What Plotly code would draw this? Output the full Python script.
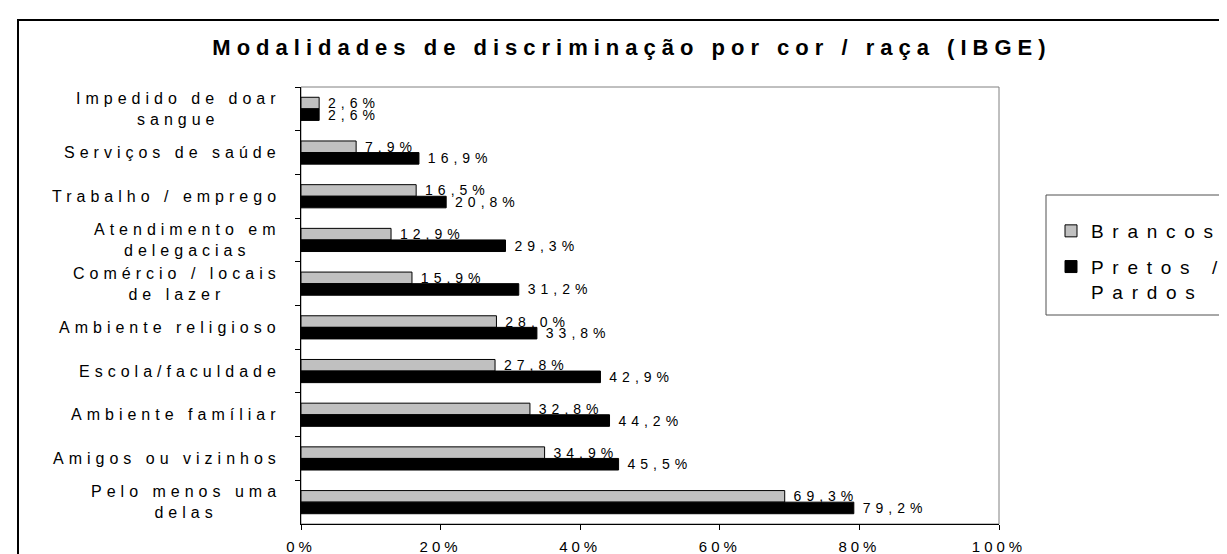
import plotly.graph_objects as go

# ---------------- data ----------------
categories = [
    "Impedido de doar sangue",
    "Serviços de saúde",
    "Trabalho / emprego",
    "Atendimento em delegacias",
    "Comércio / locais de lazer",
    "Ambiente religioso",
    "Escola/faculdade",
    "Ambiente famíliar",
    "Amigos ou vizinhos",
    "Pelo menos uma delas",
]
category_lines = [
    ["Impedido de doar", "sangue"],
    ["Serviços de saúde"],
    ["Trabalho / emprego"],
    ["Atendimento em", "delegacias"],
    ["Comércio / locais", "de lazer"],
    ["Ambiente religioso"],
    ["Escola/faculdade"],
    ["Ambiente famíliar"],
    ["Amigos ou vizinhos"],
    ["Pelo menos uma", "delas"],
]
brancos = [2.6, 7.9, 16.5, 12.9, 15.9, 28.0, 27.8, 32.8, 34.9, 69.3]
pretos = [2.6, 16.9, 20.8, 29.3, 31.2, 33.8, 42.9, 44.2, 45.5, 79.2]
series_names = [["Brancos"], ["Pretos /", "Pardos"]]
x_tick_values = [0, 20, 40, 60, 80, 100]
x_tick_labels = ["0%", "20%", "40%", "60%", "80%", "100%"]
title_text = "Modalidades de discriminação por cor / raça (IBGE)"

# ---------------- style ----------------
FONT = "Liberation Sans, Arial, sans-serif"
W, H = 1227, 554
ML, MR, MT, MB = 293, 236, 79, 38
PW, PH = W - ML - MR, H - MT - MB


def sp(s, ls):
    return f"<span style='letter-spacing:{ls}px'>{s}</span>"


def lines(parts, ls):
    return "<br>".join(sp(p, ls) for p in parts)


def pct(v):
    return f"{v:.1f}".replace(".", ",") + "%"


def bar_label(v):
    return sp("\u00a0", 2) + sp(pct(v), 5)


def px_to_paper_x(px):
    return (px - ML) / PW


def px_to_paper_y(py):
    return (H - MB - py) / PH


fig = go.Figure()
fig.add_trace(go.Bar(
    y=categories, x=brancos, orientation="h",
    name=lines(series_names[0], 8.7), legendgroup="a",
    marker=dict(color="#c0c0c0", line=dict(color="#000000", width=1)),
    text=[bar_label(v) for v in brancos], textposition="outside",
    textfont=dict(family=FONT, size=14, color="#000000"),
    constraintext="none", cliponaxis=False, hoverinfo="skip",
))
fig.add_trace(go.Bar(
    y=categories, x=pretos, orientation="h",
    name=lines(series_names[1], 8.7), legendgroup="b",
    marker=dict(color="#000000", line=dict(color="#000000", width=1)),
    text=[bar_label(v) for v in pretos], textposition="outside",
    textfont=dict(family=FONT, size=14, color="#000000"),
    constraintext="none", cliponaxis=False, hoverinfo="skip",
))

annotations = []
for c, parts in zip(categories, category_lines):
    annotations.append(dict(
        x=0, xref="paper", y=c, yref="y", xanchor="right", yanchor="middle",
        xshift=-18, align="center", showarrow=False,
        text=lines(parts, 5),
        font=dict(family=FONT, size=16, color="#000000"),
    ))

shapes = [
    # plot area border (grey)
    dict(type="rect", xref="paper", yref="paper", x0=0, x1=1, y0=0, y1=1,
         line=dict(color="#808080", width=1), layer="below"),
    # outer chart frame
    dict(type="rect", xref="paper", yref="paper",
         x0=px_to_paper_x(10), x1=px_to_paper_x(W + 20),
         y0=px_to_paper_y(H + 20), y1=px_to_paper_y(12),
         line=dict(color="#000000", width=2)),
    # legend box
    dict(type="rect", xref="paper", yref="paper",
         x0=px_to_paper_x(1038), x1=px_to_paper_x(W + 20),
         y0=px_to_paper_y(307), y1=px_to_paper_y(187),
         line=dict(color="#505050", width=1)),
]

fig.update_layout(
    width=W, height=H,
    margin=dict(l=ML, r=MR, t=MT, b=MB, autoexpand=False),
    paper_bgcolor="#ffffff", plot_bgcolor="#ffffff",
    font=dict(family=FONT, color="#000000"),
    title=dict(text=sp(title_text, 6), x=0.5085, xanchor="center",
               y=1 - 39 / H, yanchor="middle",
               font=dict(family=FONT, size=22, color="#000000", weight="bold")),
    barmode="group", bargap=0.47, bargroupgap=0,
    showlegend=True,
    legend=dict(x=px_to_paper_x(1043), xanchor="left",
                y=px_to_paper_y(204), yanchor="top",
                bgcolor="rgba(0,0,0,0)", borderwidth=0,
                font=dict(family=FONT, size=19, color="#000000"),
                traceorder="grouped", tracegroupgap=8, itemwidth=30,
                valign="top"),
    xaxis=dict(range=[0, 100], tickvals=x_tick_values,
               ticktext=[sp(t, 4) for t in x_tick_labels],
               ticks="outside", ticklen=5, tickcolor="#000000",
               ticklabelstandoff=4,
               showline=True, linecolor="#000000", linewidth=1,
               showgrid=False, zeroline=False,
               tickfont=dict(family=FONT, size=15, color="#000000")),
    yaxis=dict(type="category", categoryorder="array", categoryarray=categories,
               autorange="reversed", showticklabels=False,
               ticks="outside", ticklen=5, tickcolor="#000000", tickson="boundaries",
               showline=True, linecolor="#000000", linewidth=1,
               showgrid=False, zeroline=False),
    annotations=annotations,
    shapes=shapes,
)

fig.write_html("out.html")
